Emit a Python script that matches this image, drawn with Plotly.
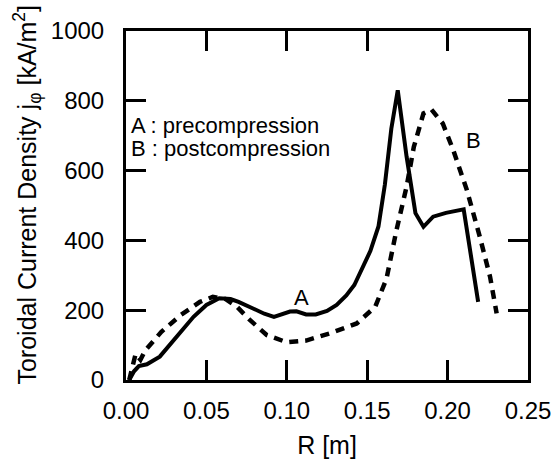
import plotly.graph_objects as go

# Curve A : precompression (solid)
r_a = [0.002, 0.005, 0.008, 0.013, 0.021, 0.031, 0.042, 0.050, 0.058, 0.065, 0.070,
       0.079, 0.086, 0.092, 0.097, 0.102, 0.106, 0.112, 0.118, 0.125, 0.131, 0.137,
       0.142, 0.147, 0.152, 0.157, 0.161, 0.165, 0.169, 0.1745, 0.180, 0.185, 0.191,
       0.199, 0.210, 0.219]
j_a = [0, 25, 40, 45, 67, 122, 181, 215, 234, 232, 224,
       205, 190, 181, 188, 196, 197, 188, 188, 198, 215, 242,
       272, 318, 370, 440, 560, 720, 830, 640, 478, 439, 468,
       479, 489, 224]

# Curve B : postcompression (dashed)
r_b = [0.002, 0.004, 0.006, 0.009, 0.012, 0.022, 0.034, 0.046, 0.054, 0.062, 0.069,
       0.077, 0.0875, 0.100, 0.112, 0.127, 0.1435, 0.155, 0.162, 0.168, 0.1745, 0.179,
       0.185, 0.190, 0.197, 0.2035, 0.212, 0.220, 0.2264, 0.2305]
j_b = [0, 40, 75, 58, 85, 138, 186, 224, 238, 232, 210,
       172, 129, 108, 113, 134, 162, 210, 290, 425, 554, 668,
       764, 775, 735, 659, 544, 411, 296, 191]

x_ticks = [0.00, 0.05, 0.10, 0.15, 0.20, 0.25]
y_ticks = [0, 200, 400, 600, 800, 1000]

FONT = "Liberation Sans, Arial, Helvetica, sans-serif"

fig = go.Figure()
fig.add_trace(go.Scatter(x=r_b, y=j_b, mode="lines",
                         line=dict(color="black", width=4.5, dash="9px,7px"),
                         showlegend=False))
fig.add_trace(go.Scatter(x=r_a, y=j_a, mode="lines",
                         line=dict(color="black", width=4),
                         showlegend=False))

axis_common = dict(showline=True, linecolor="black", linewidth=3, mirror="ticks",
                   ticks="inside", ticklen=20, tickwidth=3, tickcolor="black",
                   showgrid=False, zeroline=False,
                   tickfont=dict(family=FONT, size=24, color="black"))

fig.update_xaxes(range=[0, 0.25], tickvals=x_ticks, tickformat=".2f",
                 title=dict(text="R [m]", font=dict(family=FONT, size=25, color="black"),
                            standoff=18),
                 ticklabelstandoff=7,
                 **axis_common)
fig.update_yaxes(range=[0, 1000], tickvals=y_ticks,
                 ticklabelstandoff=14,
                 **axis_common)

ann_font = dict(family=FONT, size=22, color="black")
fig.add_annotation(x=-0.245, y=0.53, xref="paper", yref="paper", textangle=-90,
                   text="Toroidal Current Density j<sub>φ</sub> [kA/m<sup>2</sup>]",
                   showarrow=False, xanchor="center", yanchor="middle",
                   font=dict(family=FONT, size=25, color="black"))
fig.add_annotation(x=0.002, y=728, xref="x", yref="y", text="A : precompression",
                   showarrow=False, xanchor="left", yanchor="middle", font=ann_font)
fig.add_annotation(x=0.002, y=662, xref="x", yref="y", text="B : postcompression",
                   showarrow=False, xanchor="left", yanchor="middle", font=ann_font)
fig.add_annotation(x=0.1089, y=235, xref="x", yref="y", text="A",
                   showarrow=False, xanchor="center", yanchor="middle", font=ann_font)
fig.add_annotation(x=0.2158, y=687, xref="x", yref="y", text="B",
                   showarrow=False, xanchor="center", yanchor="middle", font=ann_font)

fig.update_layout(width=557, height=459,
                  margin=dict(l=126, r=29, t=31, b=79, autoexpand=False),
                  paper_bgcolor="white", plot_bgcolor="white",
                  font=dict(family=FONT, color="black"))

fig.write_html("out.html")
